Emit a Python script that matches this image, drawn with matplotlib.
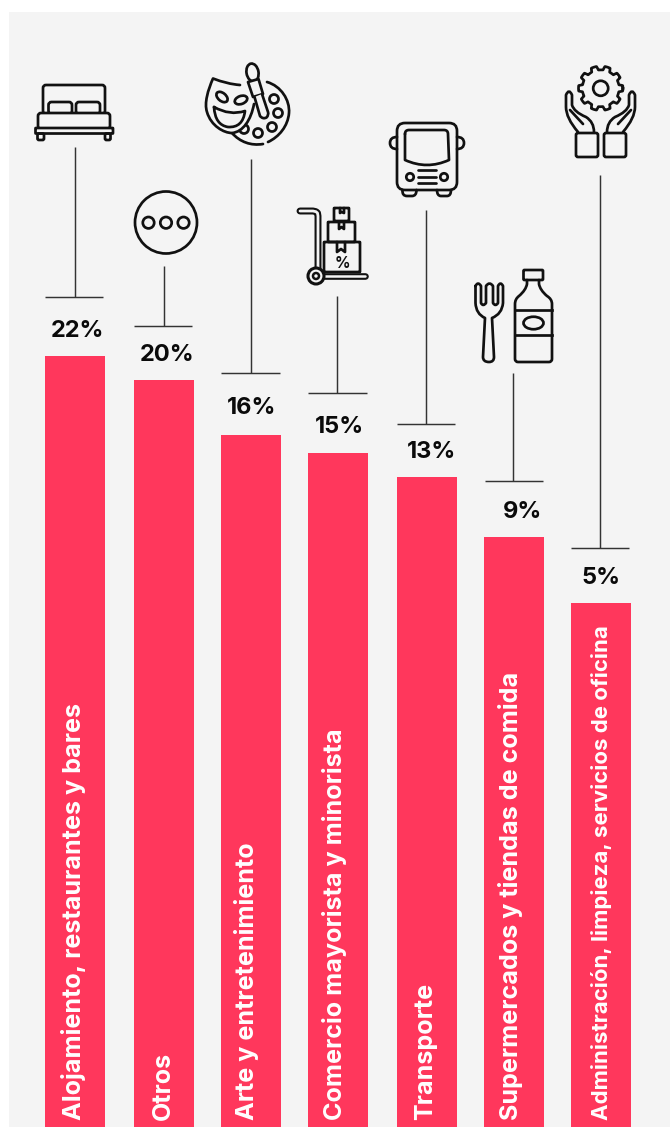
import numpy as np
import matplotlib
matplotlib.use("Agg")
import matplotlib.pyplot as plt
from matplotlib import font_manager
from matplotlib.patches import Circle, Ellipse, FancyBboxPatch, PathPatch, Polygon, Rectangle
from matplotlib.path import Path

# Datos
categories = [
    "Alojamiento, restaurantes y bares",
    "Otros",
    "Arte y entretenimiento",
    "Comercio mayorista y minorista",
    "Transporte",
    "Supermercados y tiendas de comida",
    "Administración, limpieza, servicios de oficina",
]
values = [22, 20, 16, 15, 13, 9, 5]
# longitud dibujada de cada barra (el original no va a escala)
bar_lengths = [771, 747, 692, 674, 650, 590, 524]

# Layout, en pixeles del original
bar_centers = [75, 164, 251, 338, 427, 514, 601]
text_baselines = [81, 170, 254, 342, 432, 518, 607.5]
pct_x = [77, 167, 252, 339, 431, 523, 601]
pct_y = [331, 355, 408, 427, 452, 512, 578]
stem_x = [75, 164, 251, 337, 426, 513, 600]
stem_top = [147, 266, 159, 296, 210, 373, 175]
stem_bottom = [297, 326, 373, 393, 424, 481, 548]
tee_left = [45, 134, 221, 308, 397, 485, 571]
tee_right = [103, 192, 280, 367, 455, 543, 629]

RED = "#FF375C"
BG = "#F4F4F4"
INK = "#111111"
W, H = 670, 1127
LW = 1.95

fig = plt.figure(figsize=(W / 100, H / 100), dpi=100, facecolor="white")
ax = fig.add_axes([0, 0, 1, 1])
ax.set_xlim(0, W)
ax.set_ylim(H, 0)
ax.axis("off")

ax.add_patch(Rectangle((9, 12), W - 9, H - 12, fc=BG, ec="none", zorder=0))

heights = np.array(bar_lengths)
ax.bar(bar_centers, heights, width=60, bottom=H - heights, color=RED, zorder=1)

installed = {f.name for f in font_manager.fontManager.ttflist}
narrow = "Liberation Sans Narrow" in installed

for i, cat in enumerate(categories):
    # la ultima etiqueta va condensada en el original
    last = i == len(categories) - 1
    family = "Liberation Sans Narrow" if (last and narrow) else "Inter"
    size = 18.1 if not last else (19.5 if narrow else 16)
    ax.text(text_baselines[i], 1119.5, cat, rotation=90, rotation_mode="anchor",
            ha="left", va="baseline", color="white", fontsize=size,
            fontfamily=family, fontweight="bold", zorder=2)
    ax.text(pct_x[i], pct_y[i], f"{values[i]}%", ha="center", va="center",
            color="#0a0a0a", fontsize=17, fontfamily="Inter", fontweight="bold")
    ax.plot([stem_x[i], stem_x[i]], [stem_top[i], stem_bottom[i]], color="#333333", lw=1.05, solid_capstyle="butt")
    ax.plot([tee_left[i], tee_right[i]], [stem_bottom[i], stem_bottom[i]], color="#333333", lw=1.05, solid_capstyle="butt")


# Iconos
def stroke(d, lw=LW, fc="none", z=3):
    verts, codes = [], []
    for cmd, *pts in d:
        c = {"M": Path.MOVETO, "L": Path.LINETO, "Q": Path.CURVE3, "C": Path.CURVE4}[cmd]
        for p in pts:
            verts.append(p)
            codes.append(c)
    ax.add_patch(PathPatch(Path(verts, codes), fc=fc, ec=INK, lw=lw, capstyle="round", joinstyle="round", zorder=z))


def rrect(x0, y0, x1, y1, r=2, lw=LW, fc="none"):
    ax.add_patch(FancyBboxPatch((x0 + r, y0 + r), x1 - x0 - 2 * r, y1 - y0 - 2 * r,
                                boxstyle=f"round,pad={r},rounding_size={r}", fc=fc, ec=INK, lw=lw, zorder=3))


def circ(x, y, r, lw=LW, fc="none"):
    ax.add_patch(Circle((x, y), r, fc=fc, ec=INK, lw=lw, zorder=3))


# cama
rrect(43, 85, 105, 114, 3)
rrect(48.5, 102, 72, 114, 3, fc=BG)
rrect(76, 102, 100, 114, 3, fc=BG)
rrect(38, 113, 110, 129, 3, fc=BG)
rrect(35.5, 128, 113, 133.5, 0.5, fc=BG)
rrect(37.5, 133.5, 44, 140, 1.5)
rrect(105, 133.5, 110.5, 140, 1.5)

# otros
circ(166, 222.5, 31)
for cx in (148.5, 166, 183.5):
    circ(cx, 222.7, 5.7)

# mascara y paleta
stroke([("M", (267, 82)), ("C", (281, 86), (290, 100), (289, 113)), ("C", (288, 126), (279, 137), (268, 142))])
stroke([("M", (263, 144)), ("C", (251, 146), (240, 142), (232, 133))])
for cx, cy in [(274, 99), (278, 113), (272, 127), (258, 133), (244, 129)]:
    circ(cx, cy, 4.5)
stroke([("M", (240, 85)), ("Q", (227, 84), (213, 78.5)), ("C", (208, 90), (204, 103), (207, 112)),
        ("C", (211, 126), (224, 133), (232, 133)), ("C", (243, 132), (251, 120), (254, 104))], fc=BG)
ax.add_patch(Ellipse((222, 97), 13, 8, angle=40, fc="none", ec=INK, lw=LW, zorder=3))
ax.add_patch(Ellipse((241, 100), 13, 8, angle=-20, fc="none", ec=INK, lw=LW, zorder=3))
stroke([("M", (214, 107)), ("Q", (230, 116), (245, 111)), ("Q", (243, 128), (228, 127)), ("Q", (215, 125), (214, 107))])
ax.add_patch(Ellipse((252.5, 72.5), 12, 18, angle=-10, fc=BG, ec=INK, lw=LW, zorder=4))
ax.add_patch(Polygon([(248, 82), (258.5, 79), (263, 94), (253, 97)], fc=BG, ec=INK, lw=LW, zorder=4, joinstyle="round"))
stroke([("M", (254.5, 97)), ("L", (260, 116)), ("Q", (263, 119.5), (266.5, 117.5)), ("Q", (269, 115), (268, 112)), ("L", (262, 94))], fc=BG, z=4)

# carretilla
handle_x = [300, 313, 316, 317.5, 318, 318]
handle_y = [211, 211, 211.7, 213, 216, 268]
ax.plot(handle_x, handle_y, color=INK, lw=5, solid_capstyle="round", solid_joinstyle="round", zorder=3)
ax.plot(handle_x, handle_y, color=BG, lw=2, solid_capstyle="round", solid_joinstyle="round", zorder=3)
ax.plot([322, 365], [276, 276], color=INK, lw=4.8, solid_capstyle="round", zorder=3)
ax.plot([322, 365], [276, 276], color=BG, lw=1.8, solid_capstyle="round", zorder=3)
circ(316, 276, 8, lw=2.2, fc=BG)
circ(316, 276, 3, lw=1.8)
for x0, y0, x1, y1 in [(324, 242, 360, 272), (328, 222, 355, 242), (334, 208, 349, 221)]:
    rrect(x0, y0, x1, y1, 0.5)
stroke([("M", (337, 242)), ("L", (337, 252)), ("L", (341, 249)), ("L", (345, 252)), ("L", (345, 242))])
stroke([("M", (339, 222)), ("L", (339, 229)), ("L", (341.5, 227)), ("L", (344, 229)), ("L", (344, 222))])
stroke([("M", (340, 208)), ("L", (340, 213)), ("L", (341.5, 212)), ("L", (344, 213)), ("L", (344, 208))])
ax.text(342, 263, "%", ha="center", va="center", fontsize=11, fontfamily="Inter", fontweight="bold", color=INK, zorder=3)

# autobus
rrect(397, 123, 457, 190, 8)
stroke([("M", (405, 134)), ("Q", (405, 130), (409, 130)), ("L", (444, 130)), ("Q", (448, 130), (448, 134)),
        ("L", (449, 160)), ("Q", (427, 170), (405, 160)), ("L", (405, 134))])
stroke([("M", (397, 137)), ("Q", (390, 137), (390, 143)), ("Q", (390, 149), (397, 149))])
stroke([("M", (457, 137)), ("Q", (464, 137), (464, 143)), ("Q", (464, 149), (457, 149))])
circ(410, 177, 3.7)
circ(444, 177, 3.7)
for gy in (170, 177, 183):
    ax.plot([418, 436], [gy, gy], color=INK, lw=LW, solid_capstyle="round", zorder=3)
stroke([("M", (402.5, 190)), ("Q", (402, 196), (407, 196)), ("L", (412, 196)), ("Q", (416.5, 196), (416.5, 190))])
stroke([("M", (437, 190)), ("Q", (437, 196), (441, 196)), ("L", (447, 196)), ("Q", (451, 196), (451, 190))])

# tenedor
stroke([("M", (475.5, 286)), ("L", (475.5, 303)), ("Q", (476, 314), (485, 318)), ("L", (483, 357)),
        ("Q", (483, 362), (489, 362)), ("Q", (494, 362), (494, 357)), ("L", (492, 318)),
        ("Q", (502, 314), (503, 303)), ("L", (503, 286)), ("Q", (500.5, 281), (498, 286)),
        ("L", (498, 303)), ("Q", (495.5, 307), (493, 303)), ("L", (493, 286)), ("Q", (489.5, 281), (486, 286)),
        ("L", (486, 303)), ("Q", (483, 307), (481, 303)), ("L", (481, 286)), ("Q", (478, 281), (475.5, 286))])

# botella
rrect(523.5, 270, 543, 280, 1)
stroke([("M", (527, 280)), ("L", (527, 284)), ("Q", (526, 290), (519, 296)), ("Q", (515, 299), (515, 304)),
        ("L", (515, 359)), ("Q", (515, 362), (518, 362)), ("L", (549, 362)), ("Q", (552, 362), (552, 359)),
        ("L", (552, 304)), ("Q", (552, 299), (547, 296)), ("Q", (540, 290), (539, 284)), ("L", (539, 280))])
ax.plot([515, 552], [310, 310], color=INK, lw=LW, zorder=3)
ax.plot([515, 552], [335, 335], color=INK, lw=LW, zorder=3)
ax.add_patch(Ellipse((533.5, 323), 20, 12.5, fc="none", ec=INK, lw=LW, zorder=3))

# manos y engranaje
circ(600.7, 88.3, 7.5)
ang = np.linspace(0, 2 * np.pi, 301)
rad = 20.3 + 1.9 * np.clip(3 * np.cos(10 * ang), -1, 1)
ax.plot(600.7 + rad * np.cos(ang), 88.3 + rad * np.sin(ang), color=INK, lw=LW, zorder=3)
rrect(576, 133, 598, 157, 2)
rrect(604, 133, 626, 157, 2)
for s in (1, -1):
    mx = lambda v: v if s == 1 else 1201 - v
    stroke([("M", (mx(578), 132)), ("Q", (mx(566), 118), (mx(566), 107)), ("L", (mx(566), 95)),
            ("Q", (mx(569), 88), (mx(572), 95)), ("L", (mx(572), 105)), ("Q", (mx(574), 112), (mx(586), 117)),
            ("Q", (mx(594), 122), (mx(594), 132))])
    stroke([("M", (mx(570), 110)), ("L", (mx(583), 124))])

fig.savefig("out.png", dpi=100, facecolor="white")
